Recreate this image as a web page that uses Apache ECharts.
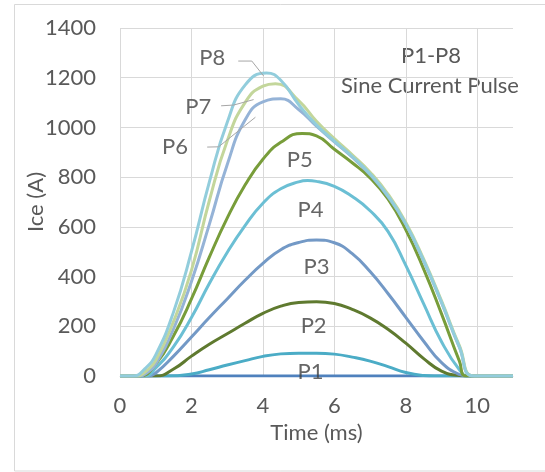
<!DOCTYPE html>
<html>
<head>
<meta charset="utf-8">
<script src="https://cdn.jsdelivr.net/npm/echarts@6/dist/echarts.min.js"></script>
<style>
  html, body { margin: 0; padding: 0; background: #fff; }
  #chart { width: 545px; height: 472px; }
</style>
</head>
<body>
<div id="chart"></div>
<script>
// pulse data, [time (ms), Ice (A)]
const base = [[0, 0], [11, 0]]
const p1 = [[0, 0], [1.3, 0], [2, 8], [2.5, 25], [3, 44], [3.5, 62], [4, 79], [4.5, 89], [5, 92], [5.5, 92], [6, 88], [6.5, 76], [7, 60], [7.5, 38], [8, 14], [8.5, 2], [8.8, 0], [11, 0]]
const p2 = [[0, 0], [1, 0], [1.5, 28], [2, 80], [2.5, 128], [3, 170], [3.5, 212], [4, 252], [4.5, 281], [5, 296], [5.5, 299], [6, 292], [6.5, 268], [7, 234], [7.5, 188], [8, 132], [8.5, 70], [9, 20], [9.5, 2], [9.8, 0], [11, 0]]
const p3 = [[0, 0], [0.8, 0], [1, 12], [1.5, 80], [2, 157], [2.5, 235], [3, 310], [3.5, 385], [4, 453], [4.5, 508], [5, 537], [5.5, 547], [6, 536], [6.5, 492], [7, 420], [7.5, 332], [8, 236], [8.5, 140], [9, 54], [9.5, 6], [9.7, 0], [11, 0]]
const p4 = [[0, 0], [0.7, 0], [1, 32], [1.5, 118], [2, 235], [2.5, 372], [3, 497], [3.5, 605], [4, 695], [4.5, 753], [5, 781], [5.25, 786], [5.5, 783], [6, 763], [6.5, 722], [7, 665], [7.5, 582], [8, 445], [8.5, 290], [9, 138], [9.5, 25], [9.75, 0], [11, 0]]
const p5 = [[0, 0], [0.55, 0], [1, 48], [1.5, 162], [2, 310], [2.5, 478], [3, 635], [3.5, 768], [4, 872], [4.5, 940], [5.1, 976], [5.5, 966], [6, 912], [6.5, 858], [7, 797], [7.5, 712], [8, 588], [8.5, 430], [9, 250], [9.5, 60], [9.7, 0], [11, 0]]
const p6 = [[0, 0], [0.55, 0], [0.8, 18], [1, 48], [1.5, 190], [2, 380], [2.5, 610], [3, 850], [3.5, 1030], [4, 1103], [4.5, 1115], [5, 1072], [5.5, 1005], [6, 942], [6.5, 880], [7, 810], [7.5, 722], [8, 610], [8.5, 462], [9, 295], [9.5, 115], [9.9, 0], [11, 0]]
const p7 = [[0, 0], [0.45, 0], [0.75, 22], [1, 62], [1.5, 220], [2, 425], [2.5, 705], [3, 945], [3.5, 1100], [4, 1166], [4.35, 1176], [5, 1108], [5.5, 1025], [6, 955], [6.5, 890], [7, 820], [7.5, 732], [8, 618], [8.5, 470], [9, 302], [9.5, 122], [9.92, 0], [11, 0]]
const p8 = [[0, 0], [0.37, 0], [0.7, 30], [1, 85], [1.5, 258], [2, 500], [2.5, 780], [3, 1020], [3.5, 1170], [4.1, 1219], [4.5, 1190], [5, 1092], [5.5, 1010], [6, 945], [6.5, 883], [7, 813], [7.5, 725], [8, 612], [8.5, 465], [9, 297], [9.5, 117], [9.9, 0], [11, 0]]

const xTicks = [0, 2, 4, 6, 8, 10]
const yTicks = [0, 200, 400, 600, 800, 1000, 1200, 1400]

const pulses = [
  { name: 'base', data: base, color: '#4F81BD' },
  { name: 'P1', data: p1, color: '#4BACC6' },
  { name: 'P2', data: p2, color: '#5F7A2F' },
  { name: 'P3', data: p3, color: '#7399C6' },
  { name: 'P4', data: p4, color: '#6BBFD4' },
  { name: 'P5', data: p5, color: '#789D3A' },
  { name: 'P6', data: p6, color: '#95B3D7' },
  { name: 'P7', data: p7, color: '#C3D69B' },
  { name: 'P8', data: p8, color: '#92CDDC' }
]

// where the P labels sit (data coords) and their leader lines
const labelSpots = [
  { name: 'P8', value: [2.58, 1279] },
  { name: 'P7', value: [2.19, 1082] },
  { name: 'P6', value: [1.54, 921] },
  { name: 'P5', value: [5.03, 869] },
  { name: 'P4', value: [5.33, 670] },
  { name: 'P3', value: [5.5, 440] },
  { name: 'P2', value: [5.42, 201] },
  { name: 'P1', value: [5.33, 17] }
]
const leaders = [
  [[3.31, 1267], [3.69, 1267], [4.02, 1207]],
  [[2.83, 1087], [3.18, 1090], [3.74, 1112]],
  [[2.44, 921], [2.76, 922], [3.79, 1041]]
]

const font = 'Lato, "Open Sans", sans-serif'
const chart = echarts.init(document.getElementById('chart'))

const series = pulses.map(function (p) {
  return {
    name: p.name,
    type: 'line',
    data: p.data,
    smooth: 0.5,
    symbol: 'none',
    silent: true,
    lineStyle: { color: p.color, width: 3 }
  }
})

leaders.forEach(function (l) {
  series.push({
    type: 'line',
    data: l,
    symbol: 'none',
    silent: true,
    z: 3,
    lineStyle: { color: '#A6A6A6', width: 1 }
  })
})

series.push({
  type: 'scatter',
  data: labelSpots,
  symbolSize: 0,
  silent: true,
  z: 4,
  label: {
    show: true,
    position: 'inside',
    formatter: '{b}',
    color: '#404040',
    fontFamily: font,
    fontSize: 22
  }
})

const option = {
  animation: false,
  backgroundColor: '#fff',
  grid: { left: 120, top: 28, right: 32, bottom: 96 },
  xAxis: {
    type: 'value',
    min: 0,
    max: 11,
    interval: 2,
    name: 'Time (ms)',
    nameLocation: 'middle',
    nameGap: 46,
    nameTextStyle: { color: '#595959', fontFamily: font, fontSize: 22 },
    axisLine: { show: true, lineStyle: { color: '#D9D9D9' } },
    axisTick: { show: false },
    axisLabel: {
      color: '#595959',
      fontFamily: font,
      fontSize: 22,
      margin: 19,
      showMaxLabel: false,
      formatter: function (v) { return xTicks.indexOf(v) >= 0 ? v : '' }
    },
    splitLine: { show: true, showMaxLine: false, lineStyle: { color: '#D9D9D9', width: 1 } }
  },
  yAxis: {
    type: 'value',
    min: 0,
    max: 1400,
    interval: 200,
    name: 'Ice (A)',
    nameLocation: 'middle',
    nameGap: 73,
    nameMoveOverlap: false,
    nameTextStyle: { color: '#595959', fontFamily: font, fontSize: 22 },
    axisLine: { show: false },
    axisTick: { show: false },
    axisLabel: {
      color: '#595959',
      fontFamily: font,
      fontSize: 22,
      margin: 24,
      formatter: function (v) { return yTicks.indexOf(v) >= 0 ? v : '' }
    },
    splitLine: { show: true, lineStyle: { color: '#D9D9D9', width: 1 } }
  },
  graphic: [
    {
      type: 'rect',
      silent: true,
      shape: { x: 14.5, y: 4.5, width: 540, height: 466.5 },
      style: { fill: 'none', stroke: '#D9D9D9', lineWidth: 1 }
    },
    {
      type: 'text',
      silent: true,
      x: 431,
      y: 56,
      style: {
        text: 'P1-P8',
        fill: '#595959',
        font: '22px ' + font,
        textAlign: 'center',
        textVerticalAlign: 'middle'
      }
    },
    {
      type: 'text',
      silent: true,
      x: 430,
      y: 86,
      style: {
        text: 'Sine Current Pulse',
        fill: '#595959',
        font: '22px ' + font,
        textAlign: 'center',
        textVerticalAlign: 'middle'
      }
    }
  ],
  series: series
}

chart.setOption(option)
</script>
</body>
</html>
